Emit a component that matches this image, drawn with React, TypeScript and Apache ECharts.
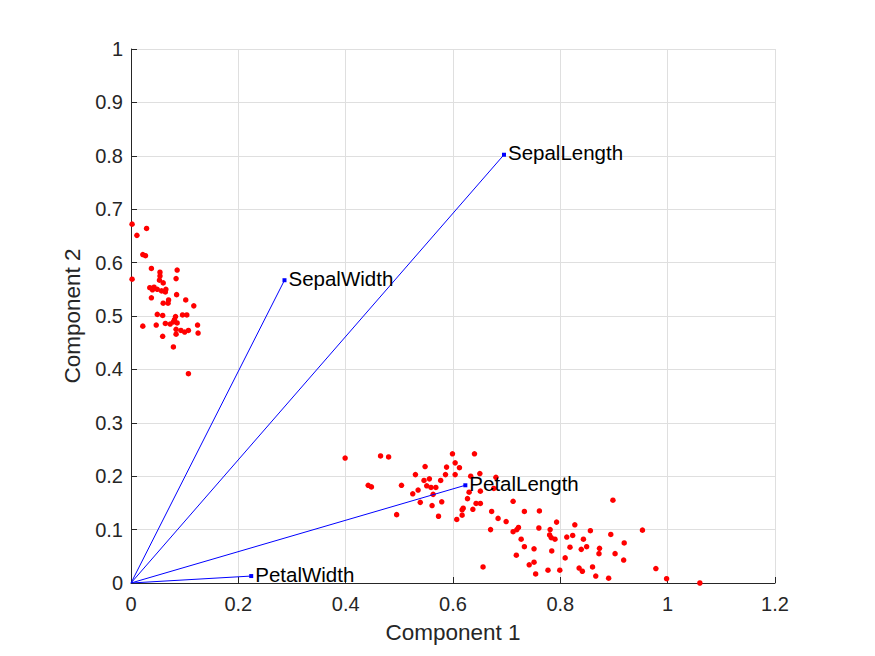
import * as echarts from 'echarts';
import { useEffect, useRef } from 'react';

// variable names and their loading coefficients (component 1, component 2)
const varNames = ['SepalLength', 'SepalWidth', 'PetalLength', 'PetalWidth'];
const loadC1 = [0.695, 0.286, 0.623, 0.224];
const loadC2 = [0.802, 0.567, 0.183, 0.013];

// observation scores, upper-left cluster
const scoresA: number[][] = [
  [0.002, 0.672], [0.029, 0.664], [0.011, 0.651], [0.022, 0.615], [0.027, 0.613],
  [0.038, 0.589], [0.054, 0.582], [0.086, 0.586], [0.002, 0.569], [0.054, 0.575],
  [0.053, 0.567], [0.084, 0.570], [0.060, 0.562], [0.035, 0.553], [0.043, 0.554],
  [0.040, 0.549], [0.049, 0.550], [0.057, 0.547], [0.065, 0.550], [0.064, 0.545],
  [0.038, 0.534], [0.085, 0.540], [0.070, 0.530], [0.102, 0.530], [0.060, 0.524],
  [0.069, 0.524], [0.117, 0.519], [0.049, 0.503], [0.059, 0.501], [0.083, 0.499],
  [0.096, 0.502], [0.104, 0.502], [0.022, 0.481], [0.047, 0.483], [0.064, 0.486],
  [0.073, 0.485], [0.079, 0.489], [0.086, 0.487], [0.081, 0.493], [0.124, 0.483],
  [0.093, 0.473], [0.100, 0.470], [0.107, 0.473], [0.084, 0.475], [0.084, 0.466],
  [0.125, 0.468], [0.059, 0.462], [0.079, 0.442], [0.107, 0.392],
];

// observation scores, lower-right cluster
const scoresB: number[][] = [
  [0.399, 0.234], [0.465, 0.238], [0.480, 0.236], [0.599, 0.242], [0.640, 0.242],
  [0.604, 0.225], [0.588, 0.217], [0.612, 0.216], [0.548, 0.218], [0.530, 0.203],
  [0.586, 0.203], [0.604, 0.203], [0.633, 0.200], [0.650, 0.205], [0.556, 0.195],
  [0.546, 0.192], [0.577, 0.192], [0.680, 0.198], [0.442, 0.183], [0.448, 0.180],
  [0.504, 0.183], [0.551, 0.182], [0.559, 0.179], [0.568, 0.179], [0.535, 0.174],
  [0.525, 0.167], [0.563, 0.166], [0.630, 0.170], [0.651, 0.172], [0.676, 0.177],
  [0.627, 0.158], [0.539, 0.151], [0.579, 0.152], [0.561, 0.145], [0.643, 0.149],
  [0.651, 0.149], [0.619, 0.140], [0.617, 0.137], [0.637, 0.138], [0.672, 0.134],
  [0.495, 0.128], [0.573, 0.125], [0.617, 0.127], [0.607, 0.119], [0.684, 0.121],
  [0.699, 0.115], [0.670, 0.100], [0.656, 0.030],
  [0.712, 0.153], [0.733, 0.134], [0.761, 0.135], [0.898, 0.155], [0.712, 0.096],
  [0.719, 0.100], [0.722, 0.104], [0.760, 0.103], [0.781, 0.100], [0.793, 0.114],
  [0.827, 0.109], [0.856, 0.098], [0.953, 0.099], [0.727, 0.082], [0.780, 0.090],
  [0.783, 0.085], [0.790, 0.082], [0.812, 0.086], [0.823, 0.089], [0.843, 0.082],
  [0.894, 0.091], [0.919, 0.075], [0.733, 0.068], [0.751, 0.064], [0.784, 0.060],
  [0.818, 0.067], [0.839, 0.063], [0.849, 0.068], [0.873, 0.065], [0.718, 0.052],
  [0.872, 0.055], [0.902, 0.055], [0.809, 0.047], [0.751, 0.039], [0.918, 0.043],
  [0.742, 0.034], [0.777, 0.024], [0.799, 0.024], [0.835, 0.028], [0.841, 0.022],
  [0.860, 0.030], [0.754, 0.017], [0.866, 0.013], [0.890, 0.009], [0.978, 0.027],
  [0.998, 0.008], [1.060, 0.000],
];

const FONT = '"Liberation Sans", Arial, sans-serif';
const AXIS_COLOR = '#262626';

const App: React.FC = () => {
  const chartRef = useRef<HTMLDivElement>(null);

  useEffect(() => {
    if (!chartRef.current) return;
    const chart = echarts.init(chartRef.current, undefined, { renderer: 'svg' });

    const vectorLines = varNames.map((name, i) => ({
      type: 'line' as const,
      name,
      data: [[0, 0], [loadC1[i], loadC2[i]]],
      symbol: 'none',
      lineStyle: { color: '#0000ff', width: 1 },
      z: 3,
    }));

    const axisCommon = {
      type: 'value' as const,
      nameLocation: 'middle' as const,
      nameTextStyle: { fontFamily: FONT, fontSize: 22.5, color: AXIS_COLOR },
      axisLine: { show: true, onZero: false, lineStyle: { color: AXIS_COLOR, width: 1 } },
      axisTick: { show: true, inside: true, length: 6, lineStyle: { color: AXIS_COLOR } },
      axisLabel: { fontFamily: FONT, fontSize: 20, color: AXIS_COLOR },
      splitLine: { show: true, lineStyle: { color: '#dfdfdf', width: 1 } },
    };

    chart.setOption({
      animation: false,
      backgroundColor: '#ffffff',
      grid: { left: 131, right: 100, top: 49, bottom: 73, containLabel: false },
      xAxis: {
        ...axisCommon,
        name: 'Component 1',
        min: 0,
        max: 1.2,
        interval: 0.2,
        nameGap: 38,
        axisLabel: { ...axisCommon.axisLabel, margin: 11 },
      },
      yAxis: {
        ...axisCommon,
        name: 'Component 2',
        min: 0,
        max: 1,
        interval: 0.1,
        nameGap: 41,
        axisLabel: { ...axisCommon.axisLabel, margin: 8 },
      },
      series: [
        {
          type: 'scatter',
          data: [...scoresA, ...scoresB],
          symbol: 'circle',
          symbolSize: 5.5,
          itemStyle: { color: '#ff0000', opacity: 1 },
          z: 2,
        },
        ...vectorLines,
        {
          type: 'scatter',
          data: varNames.map((name, i) => ({ value: [loadC1[i], loadC2[i]], name })),
          symbol: 'rect',
          symbolSize: 4,
          itemStyle: { color: '#0000ff', opacity: 1 },
          label: {
            show: true,
            position: 'right',
            distance: 2,
            offset: [0, -2],
            formatter: '{b}',
            fontFamily: FONT,
            fontSize: 20.5,
            color: '#000000',
          },
          z: 4,
        },
      ],
    });

    return () => {
      if (!chart.isDisposed()) chart.dispose();
    };
  }, []);

  return (
    <div
      ref={chartRef}
      style={{ position: 'fixed', left: 0, top: 0, width: '875px', height: '656px' }}
    />
  );
};

export default App;
